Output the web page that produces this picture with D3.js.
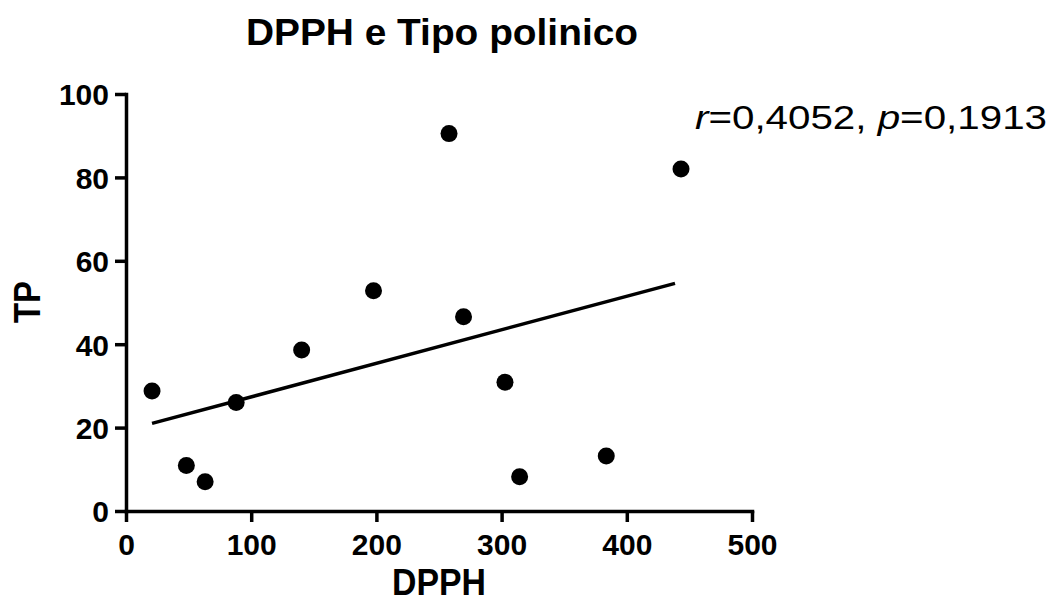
<!DOCTYPE html>
<html>
<head>
<meta charset="utf-8">
<script src="https://cdn.jsdelivr.net/npm/d3@7"></script>
<style>
  html, body { margin: 0; padding: 0; background: #fff; }
  svg { display: block; font-family: Arial, "Liberation Sans", sans-serif; }
</style>
</head>
<body>
<svg width="1052" height="606"></svg>
<script>
const width = 1052, height = 606;
const svg = d3.select("svg");

// scatter values
const dpph = [20.8, 48.2, 63.2, 88.0, 140.3, 197.7, 258.0, 269.6, 302.7, 314.4, 383.6, 443.3];
const tp   = [28.8, 10.9, 7.0, 26.0, 38.6, 52.8, 90.5, 46.6, 30.9, 8.2, 13.2, 82.0];

// regression line end points
const fitX = [20.8, 438.5];
const fitY = [21.0, 54.6];

const xTicks = [0, 100, 200, 300, 400, 500];
const yTicks = [0, 20, 40, 60, 80, 100];

const x = d3.scaleLinear().domain([0, 500]).range([126, 752]);
const y = d3.scaleLinear().domain([0, 100]).range([511, 94]);

const axisW = 3.5;

// x axis
const gx = svg.append("g")
    .attr("transform", `translate(0,${y(0)})`)
    .call(d3.axisBottom(x).tickValues(xTicks).tickSize(11).tickSizeOuter(0).tickPadding(12));

// y axis
const gy = svg.append("g")
    .attr("transform", `translate(${x(0)},0)`)
    .call(d3.axisLeft(y).tickValues(yTicks).tickSize(11).tickSizeOuter(0).tickPadding(6));

[gx, gy].forEach(g => {
    g.select(".domain").attr("stroke", "#000").attr("stroke-width", axisW)
        .attr("stroke-linecap", "square");
    g.selectAll(".tick line").attr("stroke", "#000").attr("stroke-width", axisW);
    g.selectAll(".tick text")
        .attr("fill", "#000")
        .style("font-size", "30px")
        .style("font-weight", "bold");
});
gy.selectAll(".tick text").attr("dy", "0.36em");

// fit line
const fit = fitX.map((v, i) => [v, fitY[i]]);
svg.append("path")
    .datum(fit)
    .attr("fill", "none")
    .attr("stroke", "#000")
    .attr("stroke-width", 3.5)
    .attr("d", d3.line().x(d => x(d[0])).y(d => y(d[1])));

// points
svg.append("g")
    .selectAll("circle")
    .data(dpph.map((v, i) => ({ x: v, y: tp[i] })))
    .join("circle")
    .attr("cx", d => x(d.x))
    .attr("cy", d => y(d.y))
    .attr("r", 8.5)
    .attr("fill", "#000");

// title
svg.append("text")
    .attr("x", 442).attr("y", 45)
    .attr("text-anchor", "middle")
    .style("font-size", "37px").style("font-weight", "bold")
    .attr("textLength", 392).attr("lengthAdjust", "spacingAndGlyphs")
    .text("DPPH e Tipo polinico");

// axis titles
svg.append("text")
    .attr("x", 439).attr("y", 595)
    .attr("text-anchor", "middle")
    .style("font-size", "36px").style("font-weight", "bold")
    .attr("textLength", 94).attr("lengthAdjust", "spacingAndGlyphs")
    .text("DPPH");

svg.append("text")
    .attr("transform", "translate(40,302) rotate(-90)")
    .attr("text-anchor", "middle")
    .style("font-size", "36px").style("font-weight", "bold")
    .attr("textLength", 42).attr("lengthAdjust", "spacingAndGlyphs")
    .text("TP");

// stats annotation
const note = svg.append("text")
    .attr("x", 695).attr("y", 129)
    .style("font-size", "33px")
    .attr("textLength", 352).attr("lengthAdjust", "spacingAndGlyphs");
note.append("tspan").style("font-style", "italic").text("r");
note.append("tspan").text("=0,4052, ");
note.append("tspan").style("font-style", "italic").text("p");
note.append("tspan").text("=0,1913");
</script>
</body>
</html>
